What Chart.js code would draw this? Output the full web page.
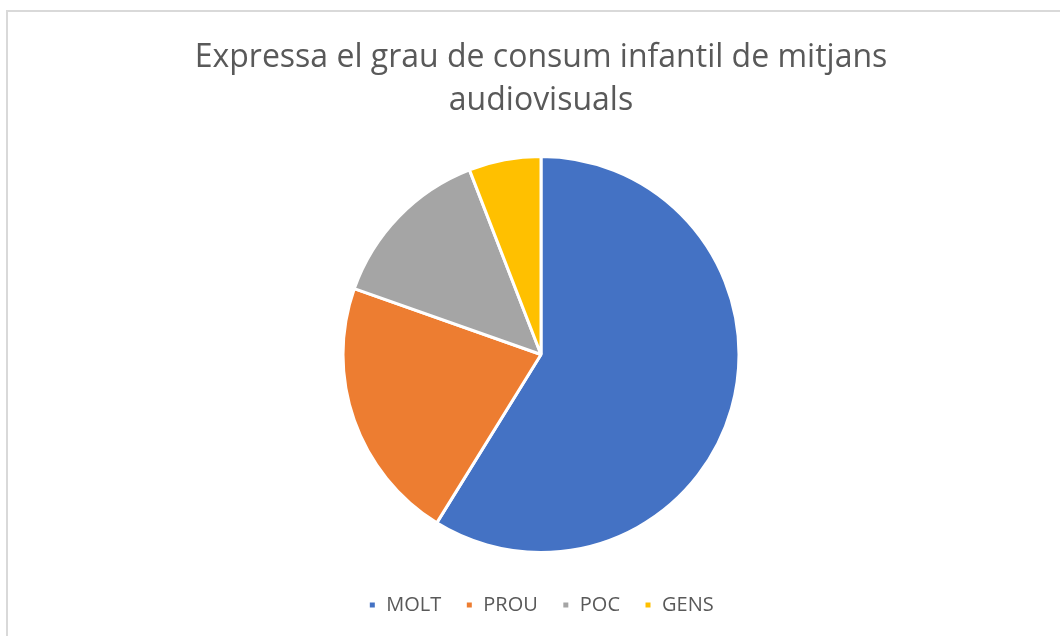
<!DOCTYPE html>
<html>
<head>
<meta charset="utf-8">
<script src="https://cdn.jsdelivr.net/npm/chart.js@4/dist/chart.umd.min.js"></script>
<style>
  html, body { margin: 0; padding: 0; background: #fff; }
  #wrap { position: relative; width: 1060px; height: 636px; overflow: hidden; }
  #frame { position: absolute; left: 6px; top: 10px; width: 1100px; height: 700px;
           border-left: 2px solid #d9d9d9; border-top: 2px solid #d9d9d9; box-sizing: border-box; }
  canvas { position: absolute; left: 0; top: 0; }
</style>
</head>
<body>
<div id="wrap">
  <div id="frame"></div>
  <canvas id="c" width="1060" height="636"></canvas>
</div>
<script>
const titleLines = ["Expressa el grau de consum infantil de mitjans", "audiovisuals"];
const categories = ["MOLT", "PROU", "POC", "GENS"];
const values = [30, 11, 7, 3];
const colors = ["#4472C4", "#ED7D31", "#A5A5A5", "#FFC000"];

new Chart(document.getElementById('c'), {
  type: 'pie',
  data: {
    labels: categories,
    datasets: [{
      data: values,
      backgroundColor: colors,
      borderColor: '#ffffff',
      borderWidth: 3
    }]
  },
  options: {
    responsive: false,
    animation: false,
    radius: 198,
    layout: { padding: { top: 0, bottom: 11, left: 22, right: 0 } },
    plugins: {
      title: {
        display: true,
        text: titleLines,
        color: '#595959',
        font: { family: '"Open Sans", sans-serif', size: 32, weight: 'normal', lineHeight: 1.344 },
        padding: { top: 36, bottom: 16 }
      },
      legend: {
        position: 'bottom',
        labels: {
          color: '#595959',
          font: { family: '"Open Sans", sans-serif', size: 20 },
          boxWidth: 8,
          boxHeight: 8,
          padding: 24
        }
      },
      tooltip: { enabled: false }
    }
  }
});
</script>
</body>
</html>
